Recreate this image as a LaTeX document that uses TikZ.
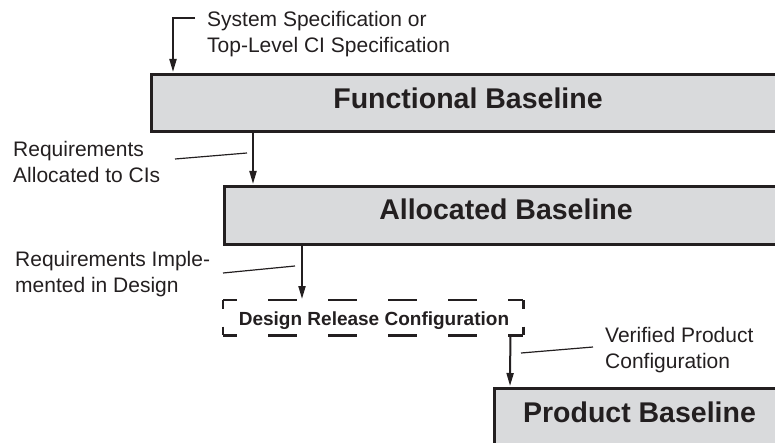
\documentclass[tikz,border=0pt]{standalone}
\usepackage{fontspec}
\setmainfont{Liberation Sans}
\usetikzlibrary{arrows.meta,calc}

\definecolor{ink}{HTML}{231F20}
\definecolor{boxfill}{HTML}{D9DADC}

\tikzset{
  basebox/.style={draw=ink, fill=boxfill, line width=3pt, rectangle,
    anchor=north west, inner sep=0pt},
  title/.style={font=\bfseries\fontsize{28.5}{34}\selectfont, text=ink,
    anchor=base, inner sep=0pt},
  label/.style={font=\fontsize{21}{26}\selectfont, text=ink, align=left,
    anchor=north west, inner sep=0pt},
  flow/.style={draw=ink, line width=2pt,
    -{Triangle[length=13pt,width=7pt]}, shorten >=1pt},
  leader/.style={draw=ink, line width=1.2pt},
  dashedge/.style={draw=ink, line width=2.6pt}
}

\begin{document}
\begin{tikzpicture}[x=1pt,y=-1pt]
  \useasboundingbox (0,0) rectangle (775,443);
  \clip (0,0) rectangle (775,443);

  % baseline boxes (they run past the right edge)
  \node[basebox, minimum width=640pt, minimum height=57pt] (fb) at (150,73) {};
  \node[basebox, minimum width=570pt, minimum height=58pt] (ab) at (223,185) {};
  \node[basebox, minimum width=300pt, minimum height=80pt] (pb) at (493,387) {};

  \node[title] (fbt) at (468,109) {Functional Baseline};
  \node[title] (abt) at (506,220) {Allocated Baseline};
  \node[title] (pbt) at (639.5,422) {Product Baseline};

  % design release configuration: dashed outline drawn edge by edge
  \node[rectangle, inner sep=0pt, minimum width=300pt, minimum height=35pt,
        anchor=north west] (drc) at (223,300) {};
  \node[font=\bfseries\fontsize{19}{23}\selectfont, text=ink, anchor=base,
        inner sep=0pt] (drct) at (374,325) {Design Release Configuration};
  \draw[dashedge, dash pattern=on 29pt off 31pt, dash phase=15pt]
    (drc.north west) -- (drc.north east);
  \draw[dashedge, dash pattern=on 29pt off 31pt, dash phase=15pt]
    (drc.south west) -- (drc.south east);
  \draw[dashedge, dash pattern=on 8.5pt off 18pt]
    (drc.north west) -- (drc.south west);
  \draw[dashedge, dash pattern=on 8.5pt off 18pt]
    (drc.north east) -- (drc.south east);

  % input specification
  \coordinate (spec) at (195,18);
  \coordinate (fbin) at ($(fb.north west)+(23,0)$);
  \draw[flow] (spec) -| (fbin);
  \node[label] (specl) at (207,11.5)
    {System Specification or\\Top-Level CI Specification};

  % flow between baselines
  \draw[flow] ($(fb.south west)+(103,0)$) -- ($(ab.north west)+(30,0)$);
  \draw[flow] ($(ab.south west)+(79,0)$) -- ($(drc.north west)+(79,0)$);
  \draw[flow] ($(drc.south east)+(-13,0)$) -- ($(pb.north west)+(17,0)$);

  % flow labels with leader lines
  \node[label] (l1) at (13,141.5) {Requirements\\Allocated to CIs};
  \coordinate (l1a) at (175,159);
  \coordinate (l1b) at (247,153);
  \draw[leader] (l1a) -- (l1b);

  \node[label] (l2) at (15,251) {Requirements Imple-\\mented in Design};
  \coordinate (l2a) at (223,273);
  \coordinate (l2b) at (295,266);
  \draw[leader] (l2a) -- (l2b);

  \node[label] (l3) at (605,327) {Verified Product\\Configuration};
  \coordinate (l3a) at (521,353);
  \coordinate (l3b) at (593,347);
  \draw[leader] (l3a) -- (l3b);
\end{tikzpicture}
\end{document}
